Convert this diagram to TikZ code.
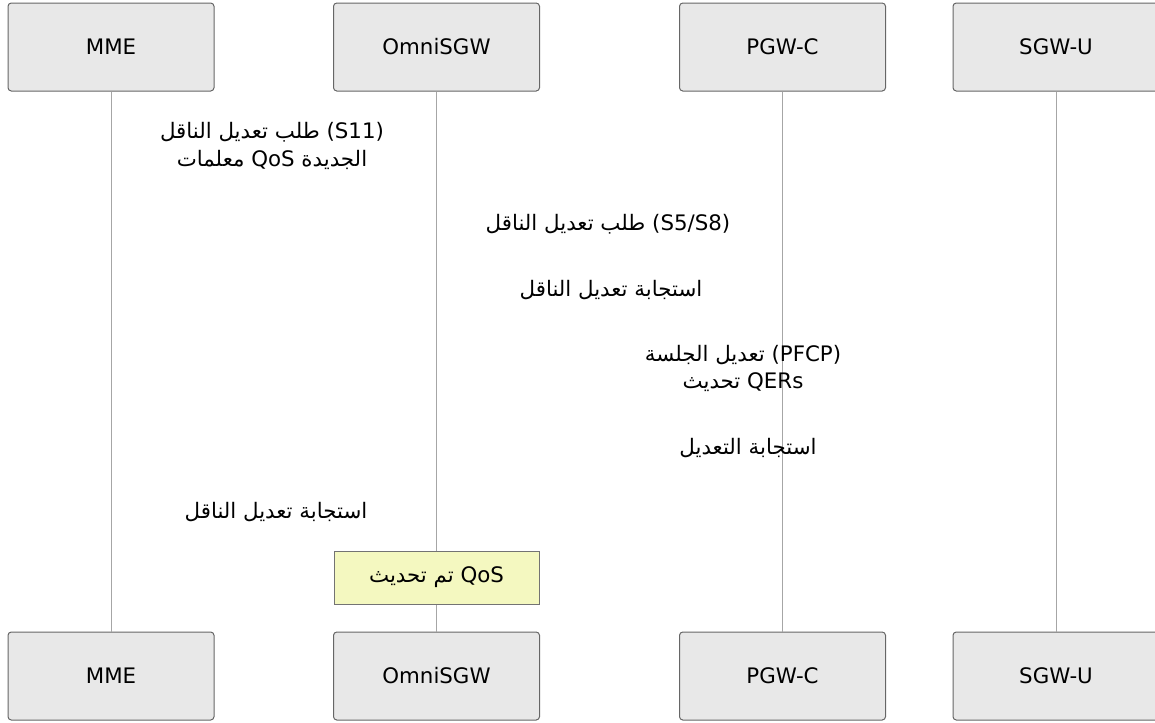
\documentclass[tikz,border=0pt]{standalone}
\usepackage{fontspec}
\setmainfont{DejaVu Sans}
\newfontfamily\arabicfont[Script=Arabic]{DejaVu Sans}
\TeXXeTstate=1
\newcommand{\arR}[1]{\beginR#1\endR}
\begin{document}
\begin{tikzpicture}[x=0.75pt,y=-0.75pt,
  actor/.style={draw=black!60,fill=black!9,rounded corners=2.5pt,line width=0.75pt,minimum width=154.5pt,minimum height=66pt,inner sep=0pt,font=\fontsize{16}{21}\selectfont},
  life/.style={draw=black!35,line width=0.75pt},
  msg/.style={font=\fontsize{16}{21}\selectfont\arabicfont,align=center,inner sep=0pt},
  notebox/.style={draw=black!55,fill=yellow!30!lime!25!white,line width=0.75pt,minimum width=153.75pt,minimum height=39.75pt,inner sep=0pt,font=\fontsize{16}{21}\selectfont\arabicfont}]
\useasboundingbox (0,0) rectangle (1155,722);
% participants
\node[actor] (mmeT) at (111,47) {MME};
\node[actor] (sgwT) at (436.5,47) {OmniSGW};
\node[actor] (pgwT) at (782.5,47) {PGW-C};
\node[actor] (upfT) at (1056,47) {SGW-U};
\node[actor] (mmeB) at (111,676) {MME};
\node[actor] (sgwB) at (436.5,676) {OmniSGW};
\node[actor] (pgwB) at (782.5,676) {PGW-C};
\node[actor] (upfB) at (1056,676) {SGW-U};
% lifelines
\draw[life] (mmeT.south) -- (mmeB.north);
\draw[life] (sgwT.south) -- (sgwB.north);
\draw[life] (pgwT.south) -- (pgwB.north);
\draw[life] (upfT.south) -- (upfB.north);
% messages (labels only)
\node[msg] (m1a) at (272,132) {\arR{طلب تعديل الناقل} (S11)};
\node[msg] (m1b) at (272,160) {\arR{معلمات} QoS \arR{الجديدة}};
\node[msg] (m2) at (608,224) {\arR{طلب تعديل الناقل} (S5/S8)};
\node[msg] (m3) at (611,290) {\arR{استجابة تعديل الناقل}};
\node[msg] (m4a) at (743,355) {\arR{تعديل الجلسة} (PFCP)};
\node[msg] (m4b) at (743,382) {\arR{تحديث} QERs};
\node[msg] (m5) at (748,448) {\arR{استجابة التعديل}};
\node[msg] (m6) at (276,512) {\arR{استجابة تعديل الناقل}};
\node[notebox] (note) at (436.5,577.5) {\arR{تم تحديث} QoS};
\end{tikzpicture}
\end{document}
